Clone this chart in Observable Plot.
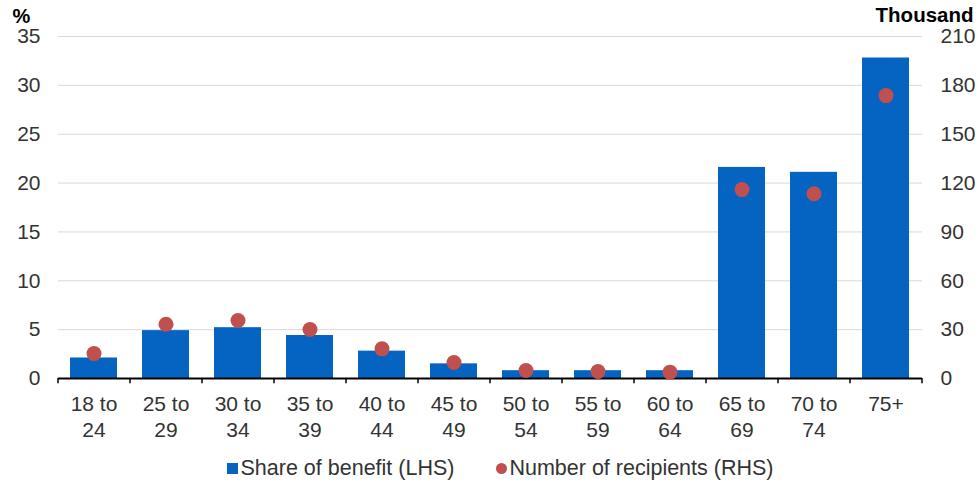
<!DOCTYPE html>
<html>
<head>
<meta charset="utf-8">
<script src="https://cdn.jsdelivr.net/npm/d3@7"></script>
<script src="https://cdn.jsdelivr.net/npm/@observablehq/plot@0.6"></script>
<style>
  html, body { margin: 0; padding: 0; background: #fff; }
  body { width: 980px; height: 483px; overflow: hidden; font-family: "Liberation Sans", Arial, sans-serif; }
  #legend { display: flex; justify-content: center; align-items: center; height: 33px; padding-left: 20px; box-sizing: border-box; font-size: 21.5px; color: #333; padding-top: 4px; }
  .sw-sq { width: 11px; height: 11px; background: #0563C1; margin-right: 3px; }
  .sw-ci { width: 11px; height: 11px; border-radius: 50%; background: #C0504D; margin-right: 2px; margin-left: 42px; }
</style>
</head>
<body>
<div id="chart"></div>
<div id="legend"><span class="sw-sq"></span><span>Share of benefit (LHS)</span><span class="sw-ci"></span><span>Number of recipients (RHS)</span></div>
<script>
const categories = ["18 to\n24", "25 to\n29", "30 to\n34", "35 to\n39", "40 to\n44", "45 to\n49", "50 to\n54", "55 to\n59", "60 to\n64", "65 to\n69", "70 to\n74", "75+"];
const shareOfBenefit = [2.1, 4.9, 5.2, 4.4, 2.8, 1.5, 0.8, 0.8, 0.8, 21.6, 21.1, 32.8];
const recipientsThousand = [15.3, 33.3, 35.6, 30.1, 18.2, 9.8, 4.9, 4.3, 3.9, 116, 113.4, 173.7];
const leftTicks = [0, 5, 10, 15, 20, 25, 30, 35];
const rightTicks = [0, 30, 60, 90, 120, 150, 180, 210];
const ratio = 210 / 35;

const data = categories.map((c, i) => ({cat: c, share: shareOfBenefit[i], rec: recipientsThousand[i]}));
const boundaries = categories.map((c, i) => ({cat: c, side: -1})).concat([{cat: categories[categories.length - 1], side: 1}]);

const chart = Plot.plot({
  width: 980,
  height: 450,
  marginTop: 36,
  marginBottom: 72,
  marginLeft: 58,
  marginRight: 58,
  style: {fontFamily: '"Liberation Sans", Arial, sans-serif', fontSize: "21px", color: "#333", background: "#fff"},
  x: {domain: categories, paddingInner: 0.345, paddingOuter: 0.1725, label: null},
  y: {domain: [0, 35], label: null},
  marks: [
    Plot.gridY(leftTicks, {stroke: "#d9d9d9", strokeOpacity: 1, strokeWidth: 1}),
    Plot.barY(data, {x: "cat", y: "share", fill: "#0563C1"}),
    Plot.ruleY([0], {stroke: "#000", strokeWidth: 2}),
    Plot.ruleX(boundaries.filter(d => d.side < 0), {x: "cat", y1: 0, y2: -0.55, dx: -36, stroke: "#000", strokeWidth: 1.5}),
    Plot.ruleX(boundaries.filter(d => d.side > 0), {x: "cat", y1: 0, y2: -0.55, dx: 36, stroke: "#000", strokeWidth: 1.5}),
    Plot.dot(data, {x: "cat", y: d => d.rec / ratio, r: 7.5, fill: "#C0504D", stroke: "none"}),
    Plot.axisX({tickSize: 0, tickPadding: 14, lineHeight: 1.25, fontSize: 21, fill: "#333", label: null}),
    Plot.axisY(leftTicks, {anchor: "left", tickSize: 0, tickPadding: 18, fontSize: 21, fill: "#333", label: null}),
    Plot.axisY(rightTicks.map(v => v / ratio), {anchor: "right", tickSize: 0, tickPadding: 18, fontSize: 21, fill: "#333", tickFormat: v => String(Math.round(v * ratio)), label: null}),
    Plot.text(["%"], {frameAnchor: "top-left", dx: -46, dy: -28, fontWeight: "bold", fontSize: 20, fill: "#000", textAnchor: "start"}),
    Plot.text(["Thousand"], {frameAnchor: "top-right", dx: 51, dy: -29, fontWeight: "bold", fontSize: 20.5, fill: "#000", textAnchor: "end"})
  ]
});
document.getElementById("chart").appendChild(chart);
</script>
</body>
</html>
